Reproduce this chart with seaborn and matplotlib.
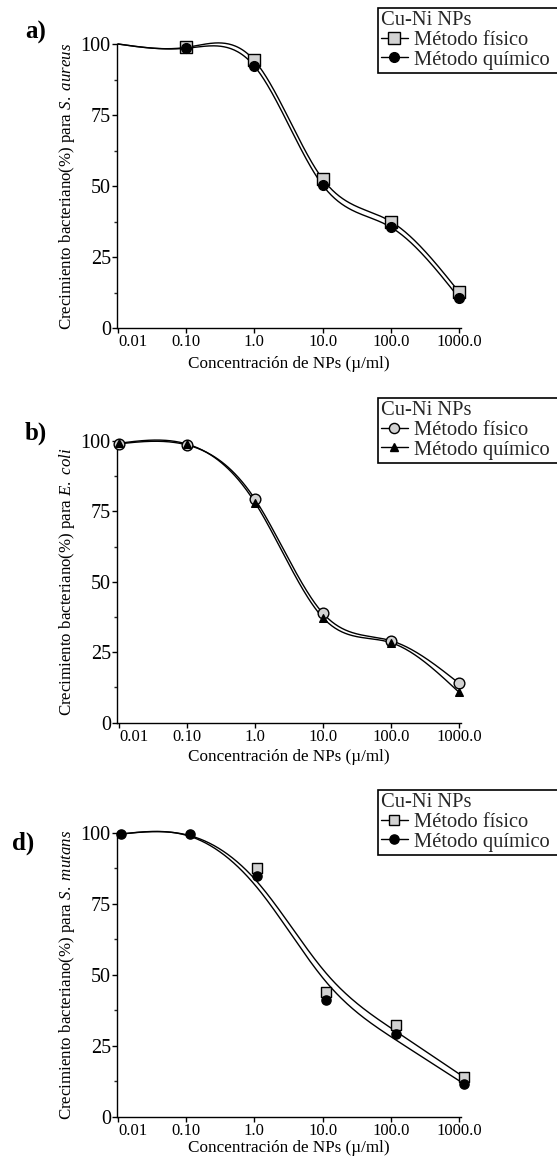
import numpy as np
import pandas as pd
import matplotlib
matplotlib.use("Agg")
import matplotlib.pyplot as plt
import seaborn as sns
from matplotlib.lines import Line2D
from matplotlib.ticker import FixedLocator, MultipleLocator, NullLocator

# ---------------- data ----------------
conc = [0.01, 0.1, 1.0, 10.0, 100.0, 1000.0]
a_fisico = [100.0, 98.8, 94.2, 52.5, 37.5, 12.7]
a_quimico = [100.0, 98.5, 92.2, 50.3, 35.5, 10.6]
b_fisico = [99.0, 98.6, 79.3, 38.8, 29.1, 14.0]
b_quimico = [99.2, 98.9, 78.1, 37.2, 28.4, 10.8]
d_conc = [0.0112, 0.112, 1.11, 11.4, 118.0, 1170.0]
d_fisico = [99.6, 99.6, 87.6, 44.0, 32.3, 14.0]
d_quimico = [99.6, 99.7, 85.0, 41.0, 29.2, 11.7]

xticks = [0.01, 0.1, 1.0, 10.0, 100.0, 1000.0]
xticklabels = ["0.01", "0.10", "1.0", "10.0", "100.0", "1000.0"]
yticks = [0, 25, 50, 75, 100]
legend_title = "Cu-Ni NPs"
series_labels = ["Método físico", "Método químico"]
xlabel = "Concentración de NPs (µ/ml)"
ylabels = [r"Crecimiento bacteriano(%) para $\mathit{S.\ aureus}$",
           r"Crecimiento bacteriano(%) para $\mathit{E.\ coli}$",
           r"Crecimiento bacteriano(%) para $\mathit{S.\ mutans}$"]
panel_tags = ["a)", "b)", "d)"]

sns.set_theme(style="ticks")
plt.rcParams["font.family"] = ["Liberation Serif", "DejaVu Serif"]
plt.rcParams["mathtext.fontset"] = "custom"
plt.rcParams["mathtext.rm"] = "Liberation Serif"
plt.rcParams["mathtext.it"] = "Liberation Serif:italic"


def natural_spline(x, y, x0=None, n=300):
    x = np.asarray(x, float)
    y = np.asarray(y, float)
    k = len(x)
    h = np.diff(x)
    A = np.zeros((k, k))
    r = np.zeros(k)
    A[0, 0] = A[-1, -1] = 1
    for i in range(1, k - 1):
        A[i, i - 1] = h[i - 1]
        A[i, i] = 2 * (h[i - 1] + h[i])
        A[i, i + 1] = h[i]
        r[i] = 3 * ((y[i + 1] - y[i]) / h[i] - (y[i] - y[i - 1]) / h[i - 1])
    c = np.linalg.solve(A, r)
    b = np.diff(y) / h - h * (2 * c[:-1] + c[1:]) / 3
    d = np.diff(c) / (3 * h)
    start = x[0] if x0 is None else x0
    xs = np.linspace(start, x[-1], n)
    idx = np.clip(np.searchsorted(x, xs) - 1, 0, k - 2)
    dx = xs - x[idx]
    ys = y[idx] + b[idx] * dx + c[idx] * dx ** 2 + d[idx] * dx ** 3
    return xs, ys


def smoothing_spline(x, y, lam, w, x0=None, n=300):
    """Weighted Reinsch cubic smoothing spline."""
    x = np.asarray(x, float)
    y = np.asarray(y, float)
    k = len(x)
    h = np.diff(x)
    Q = np.zeros((k, k - 2))
    R = np.zeros((k - 2, k - 2))
    for j in range(1, k - 1):
        Q[j - 1, j - 1] = 1 / h[j - 1]
        Q[j, j - 1] = -1 / h[j - 1] - 1 / h[j]
        Q[j + 1, j - 1] = 1 / h[j]
        R[j - 1, j - 1] = (h[j - 1] + h[j]) / 3
        if j < k - 2:
            R[j - 1, j] = R[j, j - 1] = h[j] / 6
    Winv = np.diag(1.0 / np.asarray(w, float))
    gamma = np.linalg.solve(R + lam * Q.T @ Winv @ Q, Q.T @ y)
    g = y - lam * Winv @ Q @ gamma
    return natural_spline(x, g, x0, n)


W, H = 557, 1158
fig = plt.figure(figsize=(W / 100, H / 100), dpi=100)

# axes boxes in pixels: left, top(ylim 100), right, bottom(ylim 0)
boxes = [(117, 44, 461, 328), (117, 441, 461, 722.7), (117, 833, 461, 1116.7)]
legend_tops = [8, 398, 790]
tag_pos = [(25, 32), (25, 433), (12, 843)]
xlabel_pads = [4, 3, 1]

panels = [
    dict(x=conc, f=a_fisico, q=a_quimico, fm="s", qm="o", fs=8.6, qs=7.0,
         fmk=slice(1, None), qmk=slice(1, None), lam=0.0, xmin=0.00967),
    dict(x=conc, f=b_fisico, q=b_quimico, fm="o", qm="^", fs=7.7, qs=5.5,
         fmk=slice(0, None), qmk=slice(0, None), lam=0.0, xmin=0.0093),
    dict(x=d_conc, f=d_fisico, q=d_quimico, fm="s", qm="o", fs=7.7, qs=6.6,
         fmk=slice(2, None), qmk=slice(0, None), lam=0.09, xmin=0.00967),
]
d_weights = [30, 2, 1, 1, 1, 1]

for k, (p, box) in enumerate(zip(panels, boxes)):
    l, t, r, b = box
    ax = fig.add_axes([l / W, 1 - b / H, (r - l) / W, (b - t) / H])
    lx = np.log10(p["x"])
    for vals, mk, ms, sel in [(p["f"], p["fm"], p["fs"], p["fmk"]),
                              (p["q"], p["qm"], p["qs"], p["qmk"])]:
        if p["lam"] == 0:
            xs, ys = natural_spline(lx, vals)
        else:
            xs, ys = smoothing_spline(lx, vals, p["lam"], d_weights,
                                      x0=np.log10(xticks[0]))
        df_line = pd.DataFrame({"x": 10 ** xs, "y": ys})
        sns.lineplot(data=df_line, x="x", y="y", ax=ax, color="black",
                     linewidth=1.0, sort=False, clip_on=False)
        df_pts = pd.DataFrame({"x": np.asarray(p["x"])[sel],
                               "y": np.asarray(vals)[sel]})
        face = "#d2d2d2" if mk == "s" or (mk == "o" and k == 1) else "black"
        sns.scatterplot(data=df_pts, x="x", y="y", ax=ax, marker=mk,
                        s=ms ** 2, color=face, edgecolor="black",
                        linewidth=1.0, zorder=5, clip_on=False)
    ax.set_xscale("log")
    ax.set_xlim(p["xmin"], 1070)
    ax.set_ylim(0, 100)
    ax.xaxis.set_major_locator(FixedLocator(xticks))
    ax.xaxis.set_minor_locator(NullLocator())
    ax.set_xticklabels(xticklabels)
    ax.get_xticklabels()[0].set_horizontalalignment("left")
    ax.yaxis.set_major_locator(FixedLocator(yticks))
    ax.yaxis.set_minor_locator(MultipleLocator(12.5))
    ax.tick_params(axis="x", which="major", direction="out", length=3.5,
                   width=1, pad=1, labelsize=12, colors="black")
    ax.tick_params(axis="y", which="major", direction="out", length=3.5,
                   width=1, pad=1, labelsize=14.5, colors="black")
    ax.tick_params(axis="y", which="minor", direction="out", length=2.5,
                   width=1)
    for s in ["top", "right"]:
        ax.spines[s].set_visible(False)
    for s in ["left", "bottom"]:
        ax.spines[s].set_linewidth(1.0)
        ax.spines[s].set_color("black")
    ax.set_xlabel(xlabel, fontsize=12.3, labelpad=xlabel_pads[k],
                  color="black")
    ax.set_ylabel(ylabels[k], fontsize=12.2, color="black")
    ax.yaxis.set_label_coords(77 / W, 1 - (t + b) / 2 / H,
                              transform=fig.transFigure)
    ax.patch.set_alpha(0)

    fcol = "#d2d2d2"
    qcol = "black"
    handles = [
        Line2D([], [], color="black", lw=1.0, marker=p["fm"],
               markersize=p["fs"] * 0.95, markerfacecolor=fcol,
               markeredgecolor="black"),
        Line2D([], [], color="black", lw=1.0, marker=p["qm"],
               markersize=p["qs"], markerfacecolor=qcol,
               markeredgecolor="black"),
    ]
    leg = fig.legend(handles, series_labels, title=legend_title,
                     loc="upper left",
                     bbox_to_anchor=(378 / W, 1 - legend_tops[k] / H,
                                     (W - 378 + 3) / W, 0),
                     bbox_transform=fig.transFigure, mode="expand",
                     frameon=True, fancybox=False, edgecolor="black",
                     framealpha=1, alignment="left", borderpad=0.15,
                     handlelength=1.3, handletextpad=0.3, labelspacing=0.02,
                     fontsize=14.8, title_fontsize=14.8, borderaxespad=0)
    leg.get_frame().set_linewidth(1.2)

    tx, ty = tag_pos[k]
    fig.text(tx / W, 1 - ty / H, panel_tags[k], fontsize=18,
             fontweight="bold", va="center", ha="left", color="black")

fig.savefig("out.png", dpi=100)
